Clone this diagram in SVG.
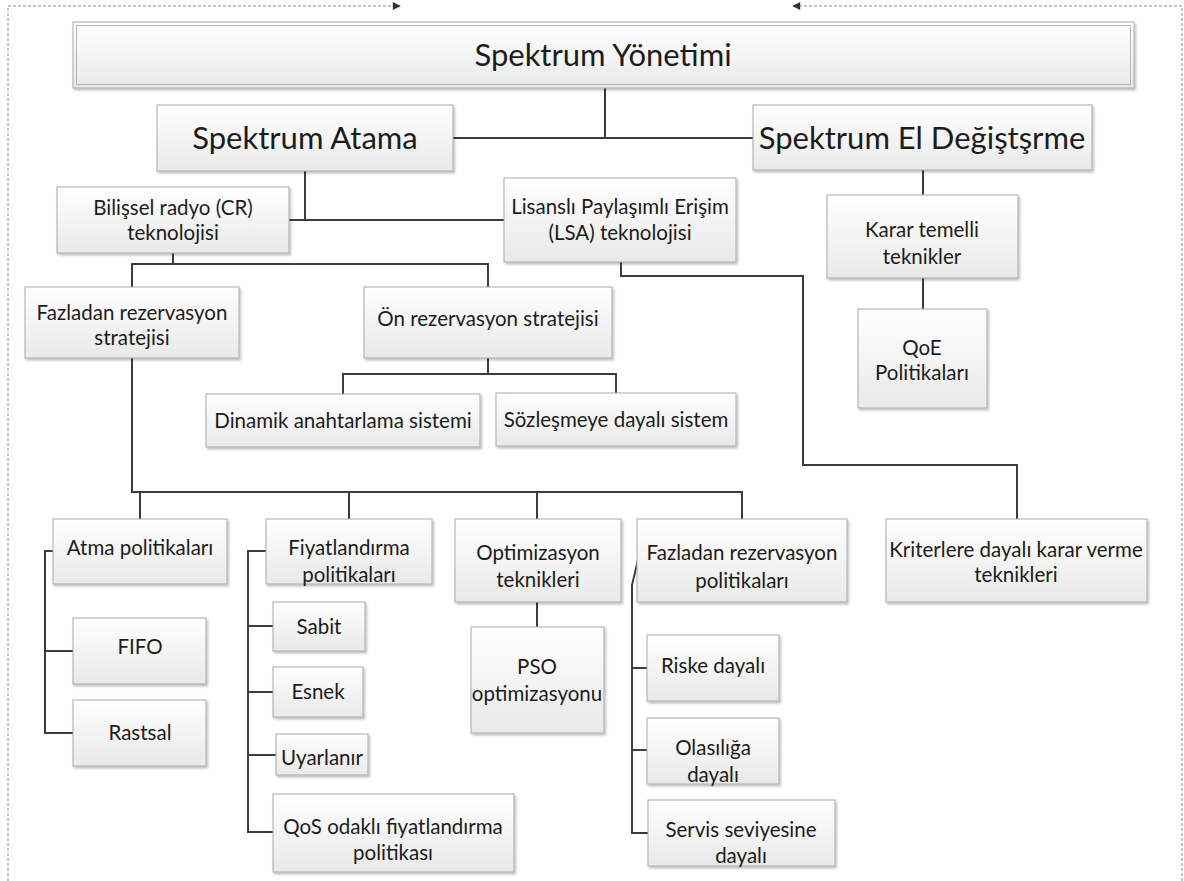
<svg xmlns="http://www.w3.org/2000/svg" width="1184" height="881" viewBox="0 0 1184 881">
  <defs>
    <linearGradient id="boxFill" x1="0" y1="0" x2="0" y2="1">
      <stop offset="0" stop-color="#ffffff"/>
      <stop offset="1" stop-color="#e9e9e9"/>
    </linearGradient>
    <filter id="shadow" x="-5%" y="-5%" width="115%" height="125%">
      <feDropShadow dx="1.5" dy="2" stdDeviation="1.2" flood-color="#000" flood-opacity="0.25"/>
    </filter>
    <marker id="tri" viewBox="0 0 10 10" refX="9" refY="5" markerWidth="10" markerHeight="8" markerUnits="userSpaceOnUse" orient="auto">
      <path d="M0,0 L10,5 L0,10 Z" fill="#333"/>
    </marker>
  </defs>
  <style>
    .box { fill: url(#boxFill); stroke: #a9a9a9; stroke-width: 1; filter: url(#shadow); }
    .inner { fill: none; stroke: #b4b4b4; stroke-width: 1; }
    .t { font-family: Lato, "Open Sans", "DejaVu Sans", sans-serif; fill: #1c1c1c; text-anchor: middle; }
    .big { font-size: 31px; }
    .sm { font-size: 20.5px; }
    .wire { fill: none; stroke: #3c3c3c; stroke-width: 2; }
    .frame { fill: none; stroke: #8a8a8a; stroke-width: 1; stroke-dasharray: 3 2; }
  </style>

  <!-- outer dashed frame with arrowheads -->
  <g id="frame">
    <path class="frame" d="M8,881 V6 H400" marker-end="url(#tri)"/>
    <path class="frame" d="M1182,881 V6 H793" marker-end="url(#tri)"/>
  </g>

  <!-- connectors -->
  <g id="connectors" class="wire">
    <path d="M605,88 V138 M453,138 H753"/>
    <path d="M305,171 V220 M289,220 H504"/>
    <path d="M173,253 V264 M132,287 V264 H488 V287"/>
    <path d="M488,358 V374 M343,394 V374 H616 V393"/>
    <path d="M621,262 V276 H803 V465 H1017 V519"/>
    <path d="M923,170 V195 M923,278 V309"/>
    <path d="M132,358 V492 H742 V519 M140,492 V519 M349,492 V519 M537,492 V519"/>
    <path d="M53,551 H45 V733 H73 M45,651 H73"/>
    <path d="M266,551 H248 V832 H273 M248,626 H273 M248,692 H273 M248,755 H276"/>
    <path d="M537,602 V627"/>
    <path d="M638,560 L632,585 V833 H648 M632,668 H647 M632,750 H647"/>
  </g>

  <g id="yonetim">
    <rect class="box" x="73" y="22" width="1061" height="66"/>
    <rect class="inner" x="76.5" y="25.5" width="1054" height="59"/>
    <text class="t big" x="603" y="66">Spektrum Yönetimi</text>
  </g>
  <g id="atama">
    <rect class="box" x="157" y="105" width="296" height="66"/>
    <text class="t big" x="305" y="149">Spektrum Atama</text>
  </g>
  <g id="eldegis">
    <rect class="box" x="753" y="105" width="339" height="65"/>
    <text class="t big" x="922" y="149">Spektrum El Değiştşrme</text>
  </g>
  <g id="cr">
    <rect class="box" x="57" y="187" width="232" height="66"/>
    <text class="t sm" x="173" y="215">Bilişsel radyo (CR)</text>
    <text class="t sm" x="173" y="240">teknolojisi</text>
  </g>
  <g id="lsa">
    <rect class="box" x="504" y="178" width="232" height="84"/>
    <text class="t sm" x="620" y="214">Lisanslı Paylaşımlı Erişim</text>
    <text class="t sm" x="620" y="240">(LSA) teknolojisi</text>
  </g>
  <g id="karar">
    <rect class="box" x="827" y="195" width="191" height="83"/>
    <text class="t sm" x="922" y="237">Karar temelli</text>
    <text class="t sm" x="922" y="264">teknikler</text>
  </g>
  <g id="qoe">
    <rect class="box" x="858" y="309" width="129" height="99"/>
    <text class="t sm" x="922" y="355">QoE</text>
    <text class="t sm" x="922" y="380">Politikaları</text>
  </g>
  <g id="fazladan-strateji">
    <rect class="box" x="25" y="287" width="214" height="71"/>
    <text class="t sm" x="132" y="320">Fazladan rezervasyon</text>
    <text class="t sm" x="132" y="345">stratejisi</text>
  </g>
  <g id="on-rezervasyon">
    <rect class="box" x="364" y="287" width="248" height="71"/>
    <text class="t sm" x="488" y="326">Ön rezervasyon stratejisi</text>
  </g>
  <g id="dinamik">
    <rect class="box" x="206" y="394" width="274" height="53"/>
    <text class="t sm" x="343" y="428">Dinamik anahtarlama sistemi</text>
  </g>
  <g id="sozlesme">
    <rect class="box" x="496" y="393" width="240" height="53"/>
    <text class="t sm" x="616" y="427">Sözleşmeye dayalı sistem</text>
  </g>
  <g id="atma">
    <rect class="box" x="53" y="519" width="174" height="65"/>
    <text class="t sm" x="140" y="555">Atma politikaları</text>
  </g>
  <g id="fiyat">
    <rect class="box" x="266" y="519" width="166" height="65"/>
    <text class="t sm" x="349" y="555">Fiyatlandırma</text>
    <text class="t sm" x="349" y="582">politikaları</text>
  </g>
  <g id="optimizasyon">
    <rect class="box" x="455" y="519" width="166" height="83"/>
    <text class="t sm" x="538" y="560">Optimizasyon</text>
    <text class="t sm" x="538" y="587">teknikleri</text>
  </g>
  <g id="fazladan-politika">
    <rect class="box" x="637" y="519" width="210" height="83"/>
    <text class="t sm" x="742" y="560">Fazladan rezervasyon</text>
    <text class="t sm" x="742" y="588">politikaları</text>
  </g>
  <g id="kriter">
    <rect class="box" x="886" y="519" width="261" height="83"/>
    <text class="t sm" x="1016" y="557">Kriterlere dayalı karar verme</text>
    <text class="t sm" x="1016" y="582">teknikleri</text>
  </g>
  <g id="fifo">
    <rect class="box" x="73" y="618" width="133" height="66"/>
    <text class="t sm" x="140" y="654">FIFO</text>
  </g>
  <g id="rastsal">
    <rect class="box" x="73" y="700" width="133" height="66"/>
    <text class="t sm" x="140" y="740">Rastsal</text>
  </g>
  <g id="sabit">
    <rect class="box" x="273" y="602" width="92" height="49"/>
    <text class="t sm" x="319" y="634">Sabit</text>
  </g>
  <g id="esnek">
    <rect class="box" x="273" y="667" width="90" height="50"/>
    <text class="t sm" x="318" y="699">Esnek</text>
  </g>
  <g id="uyarlanir">
    <rect class="box" x="276" y="734" width="92" height="41"/>
    <text class="t sm" x="322" y="765">Uyarlanır</text>
  </g>
  <g id="qos">
    <rect class="box" x="273" y="794" width="241" height="78"/>
    <text class="t sm" x="393" y="834">QoS odaklı fiyatlandırma</text>
    <text class="t sm" x="393" y="860">politikası</text>
  </g>
  <g id="pso">
    <rect class="box" x="471" y="627" width="133" height="106"/>
    <text class="t sm" x="537" y="674">PSO</text>
    <text class="t sm" x="537" y="701">optimizasyonu</text>
  </g>
  <g id="riske">
    <rect class="box" x="647" y="635" width="132" height="66"/>
    <text class="t sm" x="713" y="673">Riske dayalı</text>
  </g>
  <g id="olasiliga">
    <rect class="box" x="647" y="718" width="132" height="66"/>
    <text class="t sm" x="713" y="755">Olasılığa</text>
    <text class="t sm" x="713" y="782">dayalı</text>
  </g>
  <g id="servis">
    <rect class="box" x="648" y="800" width="187" height="66"/>
    <text class="t sm" x="741" y="837">Servis seviyesine</text>
    <text class="t sm" x="741" y="863">dayalı</text>
  </g>
</svg>
